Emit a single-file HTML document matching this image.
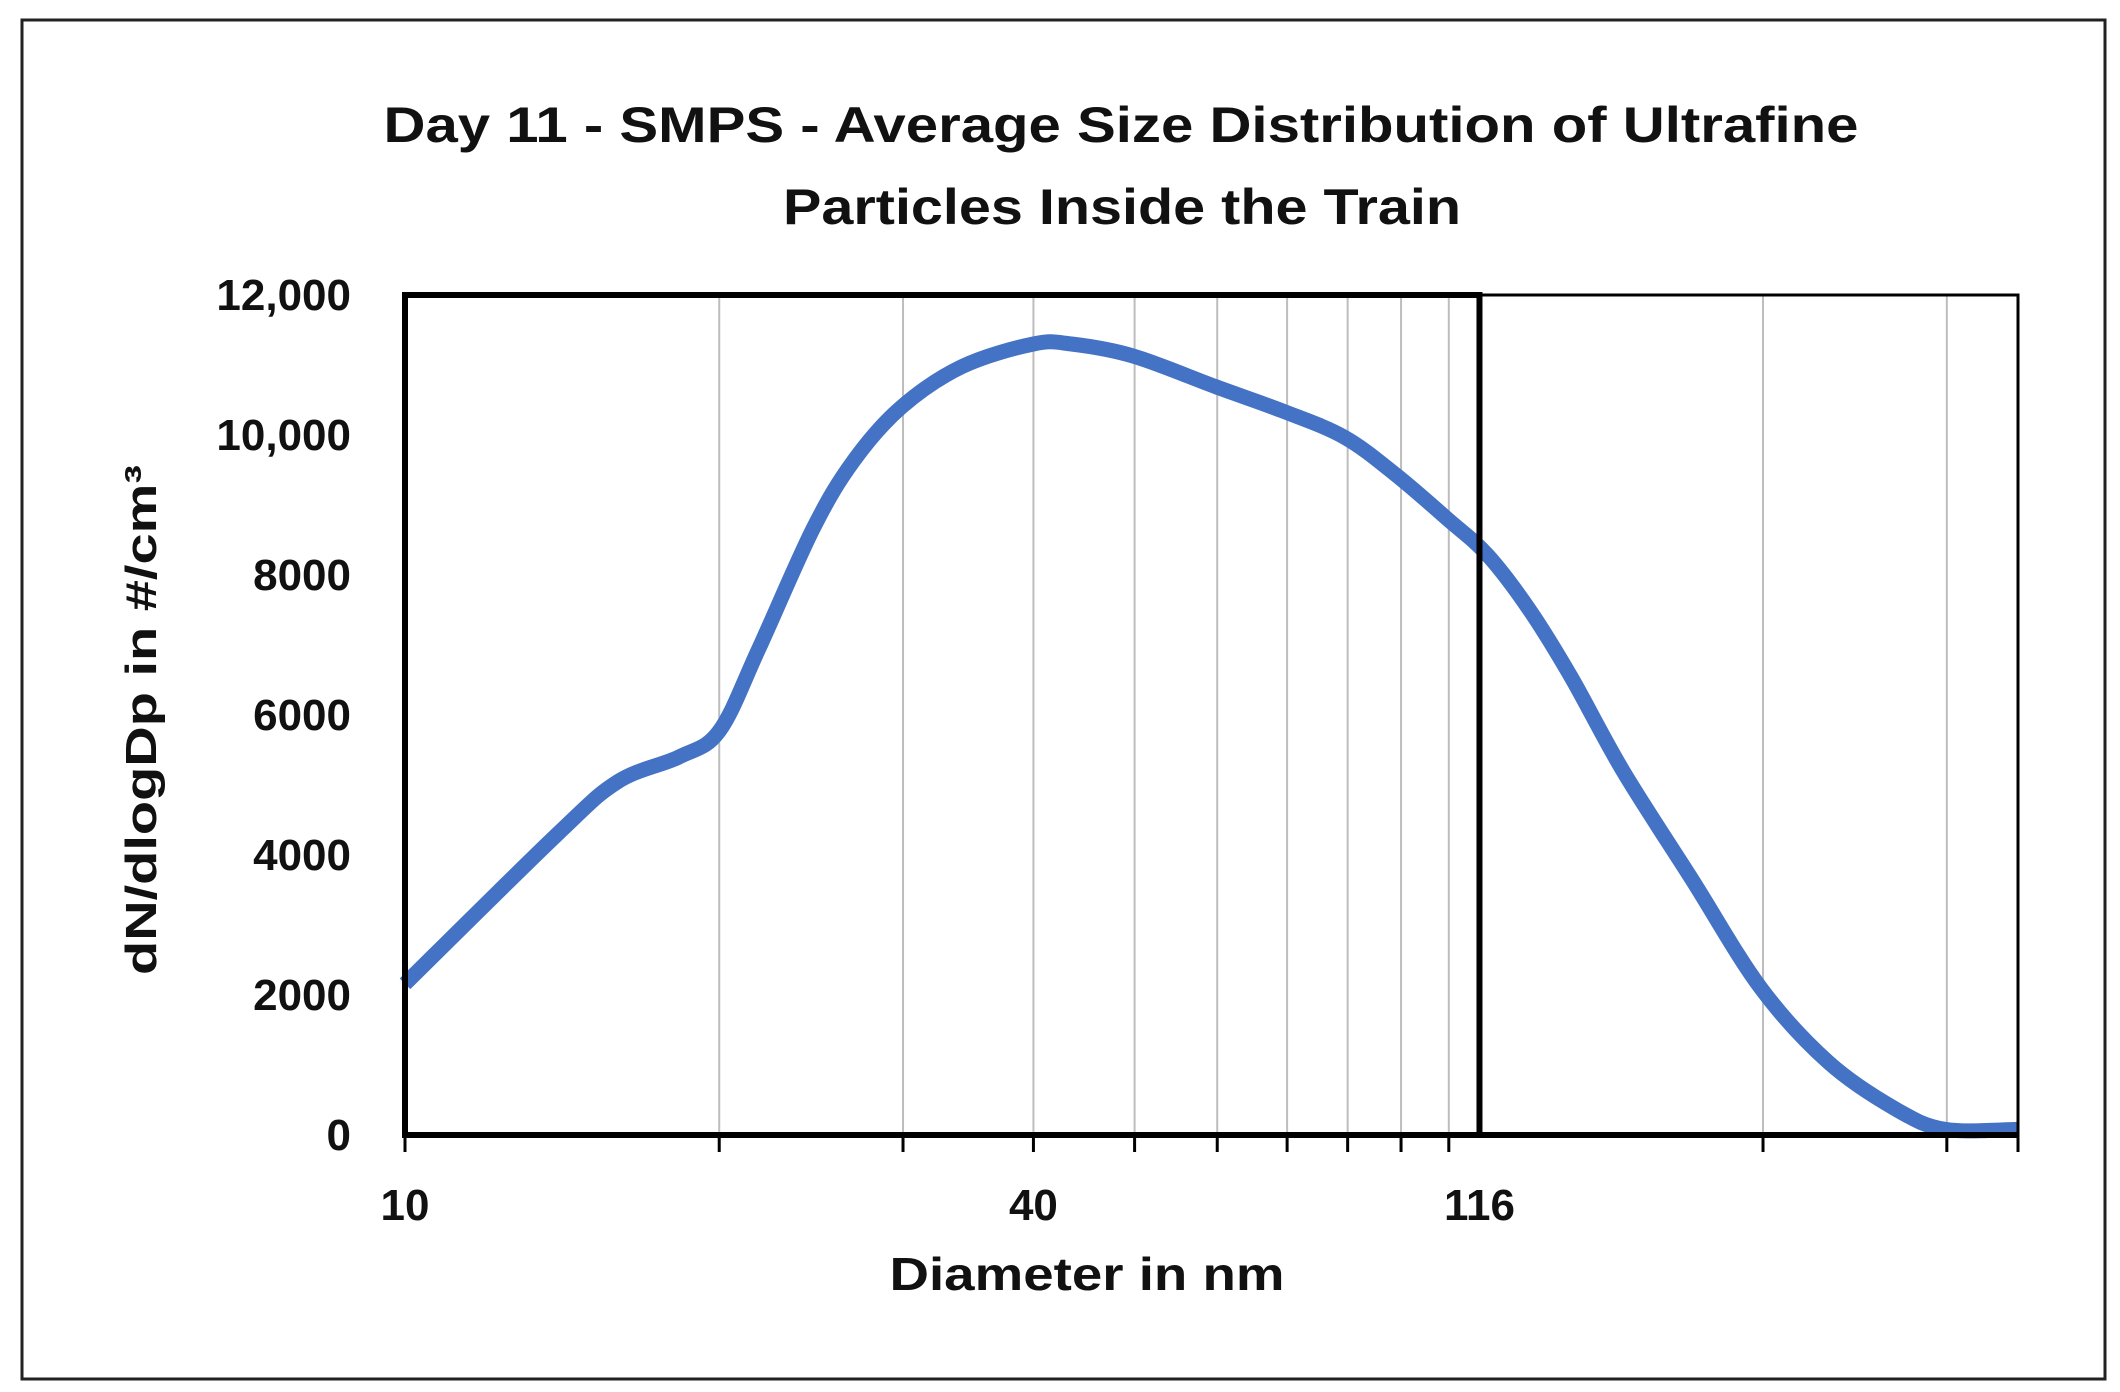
<!DOCTYPE html>
<html><head><meta charset="utf-8"><style>
html,body{margin:0;padding:0;background:#fff;}
svg{display:block;}
text{font-family:"Liberation Sans",sans-serif;font-weight:bold;fill:#111;}
</style></head><body>
<svg id="chart" width="2120" height="1392" viewBox="0 0 2120 1392" xmlns="http://www.w3.org/2000/svg">
<rect x="22" y="20" width="2083" height="1359" fill="#fff" stroke="#222" stroke-width="3"/>
<text x="1121" y="142" font-size="50" text-anchor="middle" textLength="1475" lengthAdjust="spacingAndGlyphs">Day 11 - SMPS - Average Size Distribution of Ultrafine</text>
<text x="1122" y="224" font-size="50" text-anchor="middle" textLength="678" lengthAdjust="spacingAndGlyphs">Particles Inside the Train</text>
<g id="grid"></g><g id="series"></g><g id="axes"></g>
<text x="1087" y="1290" font-size="46" text-anchor="middle" textLength="395" lengthAdjust="spacingAndGlyphs">Diameter in nm</text>
<text transform="translate(156,720) rotate(-90)" font-size="44" text-anchor="middle" textLength="510" lengthAdjust="spacingAndGlyphs">dN/dlogDp in #/cm³</text>
</svg>
<script>
const diameters = [10, 14, 16, 18.3, 20, 21.8, 24.6, 26.9, 29.9, 34.2, 40, 43.5, 49.8, 59.8, 69.4, 79.4, 89, 99.7, 109, 119.5, 131, 147, 171, 199, 231, 268, 299, 351];
const concentrations = [2160, 4300, 5050, 5400, 5770, 6930, 8660, 9630, 10400, 10980, 11300, 11300, 11130, 10690, 10340, 9970, 9430, 8800, 8280, 7500, 6540, 5190, 3650, 2100, 1040, 370, 80, 80];
const yTicks = [0, 2000, 4000, 6000, 8000, 10000, 12000];
const yTickLabels = ["0", "2000", "4000", "6000", "8000", "10,000", "12,000"];
const xGridValues = [20, 30, 40, 50, 60, 70, 80, 90, 100, 200, 300];
const xLabelValues = [10, 40, 107];
const xLabelTexts = ["10", "40", "116"];
const markerValue = 107;
const xMin = 10, xMax = 351, yMax = 12000;

const L = 405, R = 2018, T = 295, B = 1135;
const decade = (R - L) / Math.log10(xMax / xMin);
const xs = v => L + Math.log10(v / xMin) * decade;
const ys = v => B - v / yMax * (B - T);
const NS = "http://www.w3.org/2000/svg";
function mk(tag, attrs, parent){const e=document.createElementNS(NS,tag);for(const k in attrs)e.setAttribute(k,attrs[k]);parent.appendChild(e);return e;}
const grid = document.getElementById('grid'), axes = document.getElementById('axes'), series = document.getElementById('series');

xGridValues.forEach(v => {
  const g = mk('line', {x1:xs(v), x2:xs(v), y1:T, y2:B, stroke:'#bdbdbd', 'stroke-width':2}, grid);
  
  
  const t = mk('line', {x1:xs(v), x2:xs(v), y1:B, y2:B+17, stroke:'#000', 'stroke-width':3}, axes);
  
  
});
[xMin, xMax].forEach(v => {
  const t = mk('line', {x1:xs(v), x2:xs(v), y1:B, y2:B+17, stroke:'#000', 'stroke-width':3}, axes);
  
  
});

const frame = mk('rect', {x:L, y:T, width:R-L, height:B-T, fill:'none', stroke:'#000', 'stroke-width':3}, axes);


const box = mk('rect', {x:L, y:T, width:xs(markerValue)-L, height:B-T, fill:'none', stroke:'#000', 'stroke-width':6}, axes);


const xAxis = mk('line', {x1:L-2, x2:R, y1:B, y2:B, stroke:'#000', 'stroke-width':6}, axes);



yTicks.forEach((v, i) => {
  const t = mk('text', {x:351, y:ys(v)+15, 'font-size':44, 'text-anchor':'end'}, axes);
  t.textContent = yTickLabels[i];
  
  
});
xLabelValues.forEach((v, i) => {
  const t = mk('text', {x:xs(v), y:1220, 'font-size':44, 'text-anchor':'middle'}, axes);
  t.textContent = xLabelTexts[i];
  
  
});

const pts = diameters.map((d, i) => [xs(d), ys(concentrations[i])]);
let d = `M${pts[0][0]},${pts[0][1]}`;
for (let i = 0; i < pts.length - 1; i++) {
  const p0 = pts[i-1] || pts[i], p1 = pts[i], p2 = pts[i+1], p3 = pts[i+2] || p2;
  const c1 = [p1[0] + (p2[0]-p0[0])/6, p1[1] + (p2[1]-p0[1])/6];
  const c2 = [p2[0] - (p3[0]-p1[0])/6, p2[1] - (p3[1]-p1[1])/6];
  d += ` C${c1[0]},${c1[1]} ${c2[0]},${c2[1]} ${p2[0]},${p2[1]}`;
}
const path = mk('path', {d, fill:'none', stroke:'#4472C4', 'stroke-width':15, 'stroke-linejoin':'round'}, series);


</script>
</body></html>
